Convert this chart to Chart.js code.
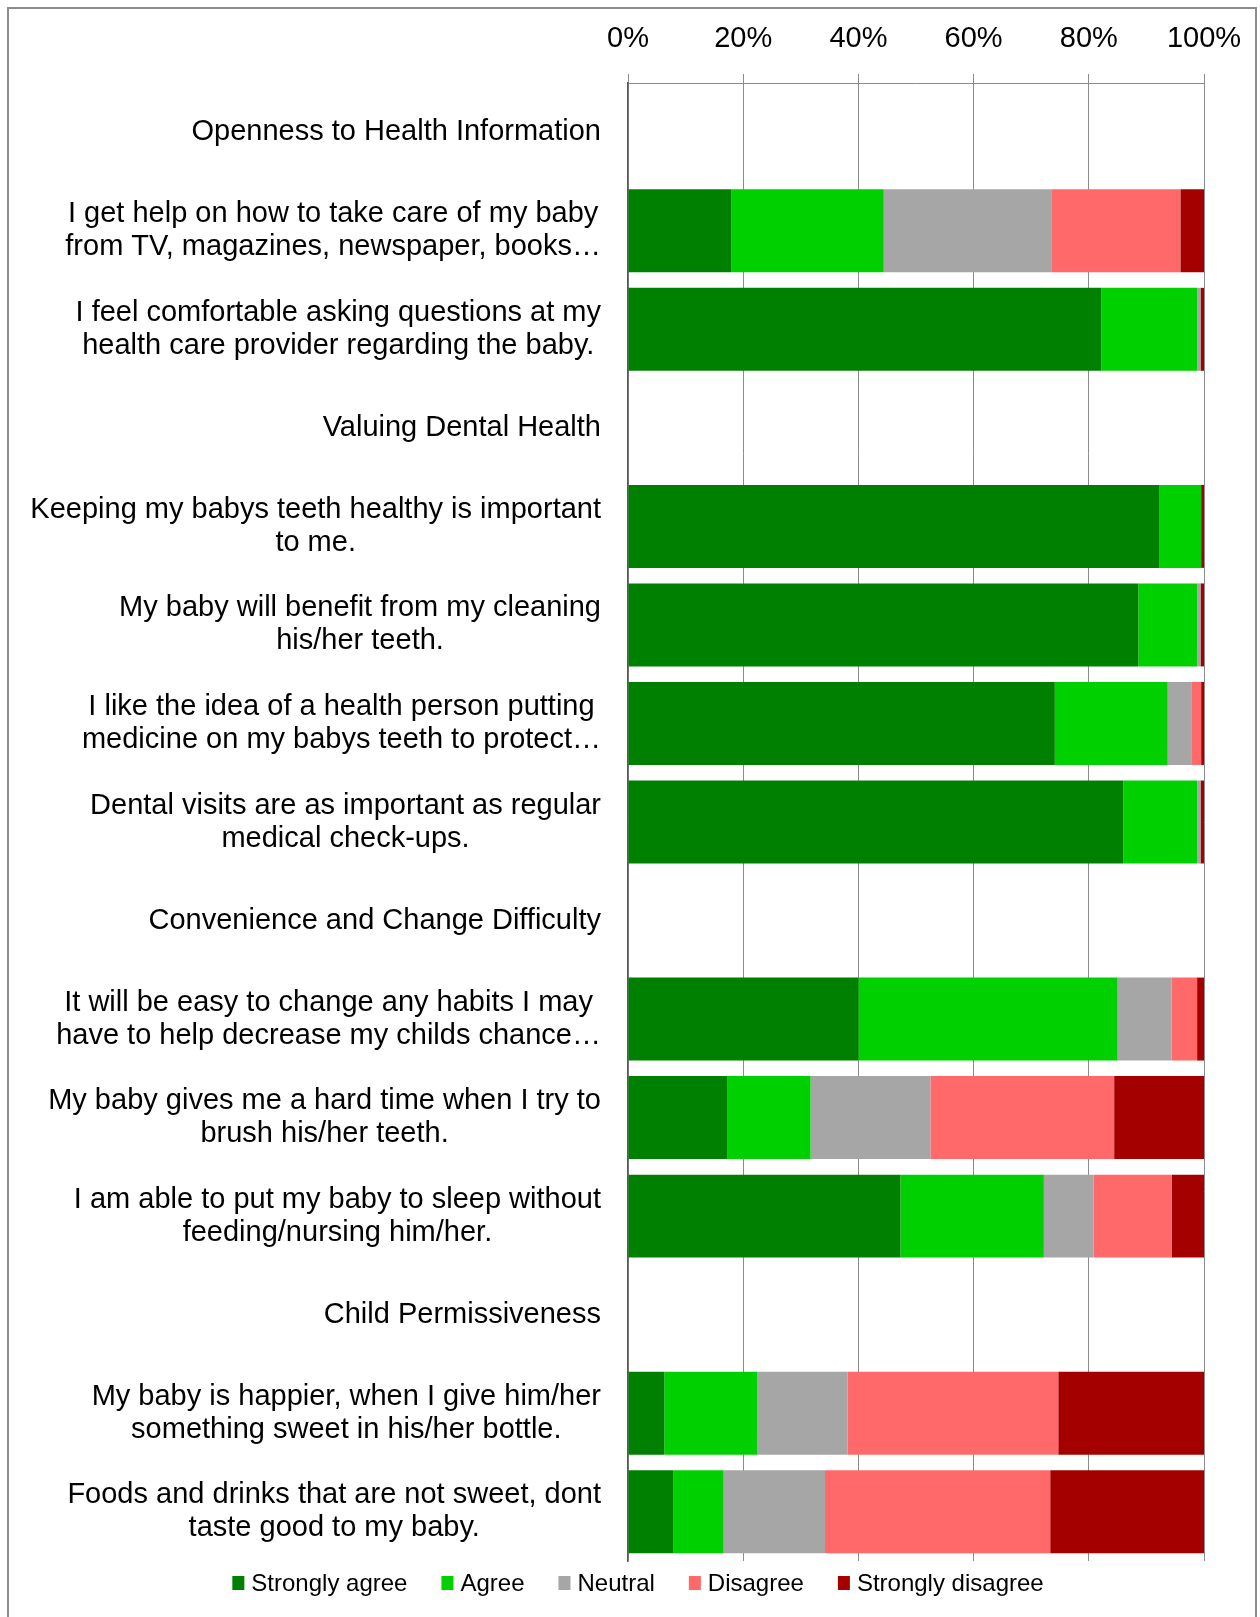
<!DOCTYPE html>
<html>
<head>
<meta charset="utf-8">
<script src="https://cdn.jsdelivr.net/npm/chart.js@4.4.1/dist/chart.umd.min.js"></script>
<style>
  html, body { margin: 0; padding: 0; background: #ffffff; }
  #wrap { width: 1260px; height: 1617px; }
  canvas { display: block; }
</style>
</head>
<body>
<div id="wrap"><canvas id="chart" width="1260" height="1617"></canvas></div>
<script>
// Survey statements, grouped under section headings (headings carry no bars)
const categories = [
  "Openness to Health Information",
  ["I get help on how to take care of my baby", "from TV, magazines, newspaper, books\u2026"],
  ["I feel comfortable asking questions at my", "health care provider regarding the baby."],
  "Valuing Dental Health",
  ["Keeping my babys teeth healthy is important", "to me."],
  ["My baby will benefit from my cleaning", "his/her teeth."],
  ["I like the idea of a health person putting", "medicine on my babys teeth to protect\u2026"],
  ["Dental visits are as important as regular", "medical check-ups."],
  "Convenience and Change Difficulty",
  ["It will be easy to change any habits I may", "have to help decrease my childs chance\u2026"],
  ["My baby gives me a hard time when I try to", "brush his/her teeth."],
  ["I am able to put my baby to sleep without", "feeding/nursing him/her."],
  "Child Permissiveness",
  ["My baby is happier, when I give him/her", "something sweet in his/her bottle."],
  ["Foods and drinks that are not sweet, dont", "taste good to my baby."]
];

// Share of responses (%) per answer
const stronglyAgree    = [null, 17.9, 82.2, null, 92.2, 88.6, 74.1, 86.0, null, 40.0, 17.2, 47.3, null,  6.3,  7.9];
const agree            = [null, 26.5, 16.6, null,  7.3, 10.2, 19.6, 12.8, null, 45.0, 14.5, 24.9, null, 16.1,  8.7];
const neutral          = [null, 29.2,  0.6, null,  0.0,  0.6,  4.2,  0.6, null,  9.4, 20.8,  8.6, null, 15.7, 17.6];
const disagree         = [null, 22.3,  0.0, null,  0.0,  0.0,  1.6,  0.0, null,  4.4, 31.9, 13.6, null, 36.6, 39.1];
const stronglyDisagree = [null,  4.1,  0.6, null,  0.5,  0.6,  0.5,  0.6, null,  1.2, 15.6,  5.6, null, 25.3, 26.7];

const seriesNames  = ["Strongly agree", "Agree", "Neutral", "Disagree", "Strongly disagree"];
const seriesColors = ["#008000", "#00d000", "#a6a6a6", "#ff6969", "#a50000"];
const seriesValues = [stronglyAgree, agree, neutral, disagree, stronglyDisagree];

const FONT = "'Liberation Sans', Arial, sans-serif";

// White page with a thin grey frame around the whole figure
const framePlugin = {
  id: 'frame',
  beforeDraw(chart) {
    const ctx = chart.ctx;
    ctx.save();
    ctx.fillStyle = '#ffffff';
    ctx.fillRect(0, 0, chart.width, chart.height);
    ctx.strokeStyle = '#8c8c8c';
    ctx.lineWidth = 2;
    ctx.strokeRect(8, 8, 1248, 1700);
    ctx.restore();
  }
};

// Statement labels: each block right-aligned to the axis, lines centred within the block
const statementLabels = {
  id: 'statementLabels',
  afterDraw(chart) {
    const scale = chart.scales.y;
    const ctx = chart.ctx;
    const rightEdge = scale.right - 27;
    const lineH = 33;
    ctx.save();
    ctx.font = '29px ' + FONT;
    ctx.fillStyle = '#000000';
    ctx.textAlign = 'center';
    ctx.textBaseline = 'middle';
    chart.data.labels.forEach((lab, i) => {
      const lines = Array.isArray(lab) ? lab : [lab];
      const w = Math.max(...lines.map(l => ctx.measureText(l).width));
      const cx = rightEdge - w / 2;
      const cy = scale.getPixelForTick(i);
      lines.forEach((l, j) => {
        ctx.fillText(l, cx, cy + (j - (lines.length - 1) / 2) * lineH);
      });
    });
    ctx.restore();
  }
};

// Key row under the plot
const keyRow = {
  id: 'keyRow',
  afterDraw(chart) {
    const ctx = chart.ctx;
    const boxW = 12, boxH = 14, textGap = 7, itemGap = 34;
    ctx.save();
    ctx.font = '24px ' + FONT;
    ctx.textBaseline = 'middle';
    ctx.textAlign = 'left';
    const items = chart.data.datasets.map(ds => ({
      text: ds.label, color: ds.backgroundColor, w: ctx.measureText(ds.label).width
    }));
    const total = items.reduce((s, it) => s + boxW + textGap + it.w, 0) + itemGap * (items.length - 1);
    let x = 638 - total / 2;
    const cy = chart.chartArea.bottom + 22;
    items.forEach(it => {
      ctx.fillStyle = it.color;
      ctx.fillRect(x, cy - boxH / 2, boxW, boxH);
      x += boxW + textGap;
      ctx.fillStyle = '#000000';
      ctx.fillText(it.text, x, cy + 1);
      x += it.w + itemGap;
    });
    ctx.restore();
  }
};

new Chart(document.getElementById('chart'), {
  type: 'bar',
  data: {
    labels: categories,
    datasets: seriesNames.map((name, k) => ({
      label: name,
      data: seriesValues[k],
      backgroundColor: seriesColors[k],
      borderWidth: 0,
      barPercentage: 0.842,
      categoryPercentage: 1.0
    }))
  },
  options: {
    indexAxis: 'y',
    responsive: false,
    animation: false,
    devicePixelRatio: 1,
    layout: { padding: { top: 0, left: 0, right: 56, bottom: 56 } },
    plugins: {
      legend: { display: false },
      tooltip: { enabled: false },
      title: { display: false }
    },
    scales: {
      x: {
        type: 'linear',
        position: 'top',
        stacked: true,
        min: 0,
        max: 100,
        ticks: {
          stepSize: 20,
          callback: v => v + '%',
          font: { family: FONT, size: 29 },
          color: '#000000',
          padding: 18,
          maxRotation: 0
        },
        grid: { color: '#8c8c8c', lineWidth: 1, drawTicks: true, tickLength: 9 },
        border: { display: true, color: '#8c8c8c', width: 1 },
        afterFit: s => { s.height = 83; }
      },
      y: {
        type: 'category',
        stacked: true,
        ticks: { display: false, autoSkip: false },
        grid: { display: false, drawTicks: false },
        border: { display: true, color: '#595959', width: 1.5 },
        afterFit: s => { s.width = 628; }
      }
    }
  },
  plugins: [framePlugin, statementLabels, keyRow]
});
</script>
</body>
</html>
